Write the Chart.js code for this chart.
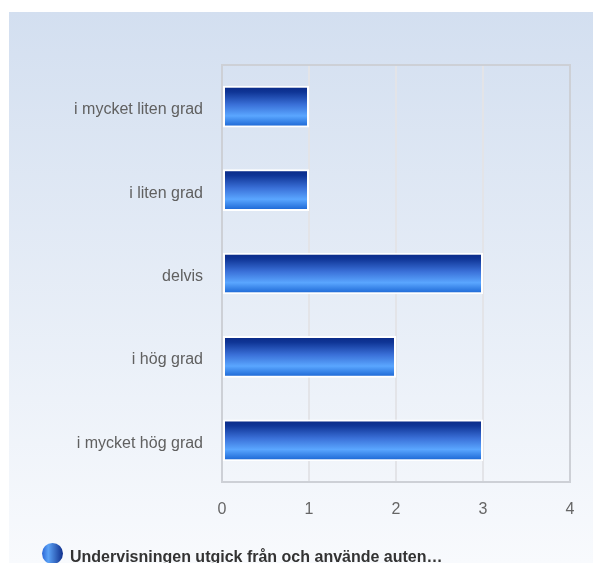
<!DOCTYPE html>
<html>
<head>
<meta charset="utf-8">
<script src="https://cdn.jsdelivr.net/npm/chart.js@4"></script>
<style>
  html, body { margin: 0; padding: 0; background: #fff; }
  #wrap { width: 593px; height: 563px; }
</style>
</head>
<body>
<div id="wrap"><canvas id="chart" width="593" height="563"></canvas></div>
<script>
  // Data
  const categories = ["i mycket liten grad", "i liten grad", "delvis", "i hög grad", "i mycket hög grad"];
  const answers = [1, 1, 3, 2, 3];
  const xTicks = [0, 1, 2, 3, 4];
  const seriesName = "Undervisningen utgick från och använde auten…";

  const FONT = "'Liberation Sans', Arial, sans-serif";

  // Panel background + plot frame + legend
  const decor = {
    id: "decor",
    beforeDraw(chart) {
      const c = chart.ctx;
      const g = c.createLinearGradient(0, 12, 0, 563);
      g.addColorStop(0, "#d3dff0");
      g.addColorStop(1, "#f8fafd");
      c.save();
      c.fillStyle = g;
      c.fillRect(9, 12, chart.width - 9, chart.height - 12);
      c.restore();
    },
    afterDraw(chart) {
      const c = chart.ctx;
      const a = chart.chartArea;
      c.save();
      c.strokeStyle = "#cdd0d6";
      c.lineWidth = 2;
      c.strokeRect(Math.round(a.left), Math.round(a.top),
        Math.round(a.right - a.left), Math.round(a.bottom - a.top));

      // legend
      const cx = 52.5, cy = 553.5, r = 10.5;
      const lg = c.createLinearGradient(cx - r, 0, cx + r, 0);
      lg.addColorStop(0, "#2a66d6");
      lg.addColorStop(0.3, "#5ba2f6");
      lg.addColorStop(1, "#0f2f8c");
      c.fillStyle = lg;
      c.beginPath();
      c.arc(cx, cy, r, 0, Math.PI * 2);
      c.fill();
      c.fillStyle = "#333";
      c.font = "bold 16px " + FONT;
      c.textBaseline = "alphabetic";
      c.fillText(chart.data.datasets[0].label, 70, 562);
      c.restore();
    }
  };

  function barFill(ctx) {
    const chart = ctx.chart;
    const y = chart.scales.y;
    if (!chart.chartArea || !y) return "#2a6ad8";
    const mid = y.getPixelForValue(ctx.dataIndex);
    const half = (y.height / categories.length) * 0.25;
    const g = chart.ctx.createLinearGradient(0, mid - half, 0, mid + half);
    g.addColorStop(0, "#092884");
    g.addColorStop(0.15, "#0f3596");
    g.addColorStop(0.45, "#3a70d8");
    g.addColorStop(0.72, "#5aa6ff");
    g.addColorStop(1, "#1560d0");
    return g;
  }

  new Chart(document.getElementById("chart").getContext("2d"), {
    type: "bar",
    data: {
      labels: categories,
      datasets: [{
        label: seriesName,
        data: answers,
        backgroundColor: barFill,
        borderColor: "#ffffff",
        borderWidth: 2,
        borderSkipped: false,
        categoryPercentage: 1,
        barPercentage: 0.5
      }]
    },
    options: {
      indexAxis: "y",
      responsive: false,
      animation: false,
      layout: { padding: { top: 65, right: 23, left: 0, bottom: 0 } },
      plugins: {
        legend: { display: false },
        tooltip: { enabled: false }
      },
      scales: {
        x: {
          min: 0,
          max: 4,
          afterBuildTicks: s => { s.ticks = xTicks.map(v => ({ value: v })); },
          afterFit: s => { s.height = 81; },
          grid: { color: "#e3e4e8", lineWidth: 2, drawTicks: false },
          border: { color: "#cdd0d6", width: 2 },
          ticks: { color: "#666", font: { family: FONT, size: 16 }, padding: 18 }
        },
        y: {
          afterFit: s => { s.width = 222; },
          grid: { display: false, drawTicks: false },
          border: { color: "#c7d0e0", width: 1 },
          ticks: { color: "#606060", font: { family: FONT, size: 16 }, padding: 19, labelOffset: 3 }
        }
      }
    },
    plugins: [decor]
  });
</script>
</body>
</html>
